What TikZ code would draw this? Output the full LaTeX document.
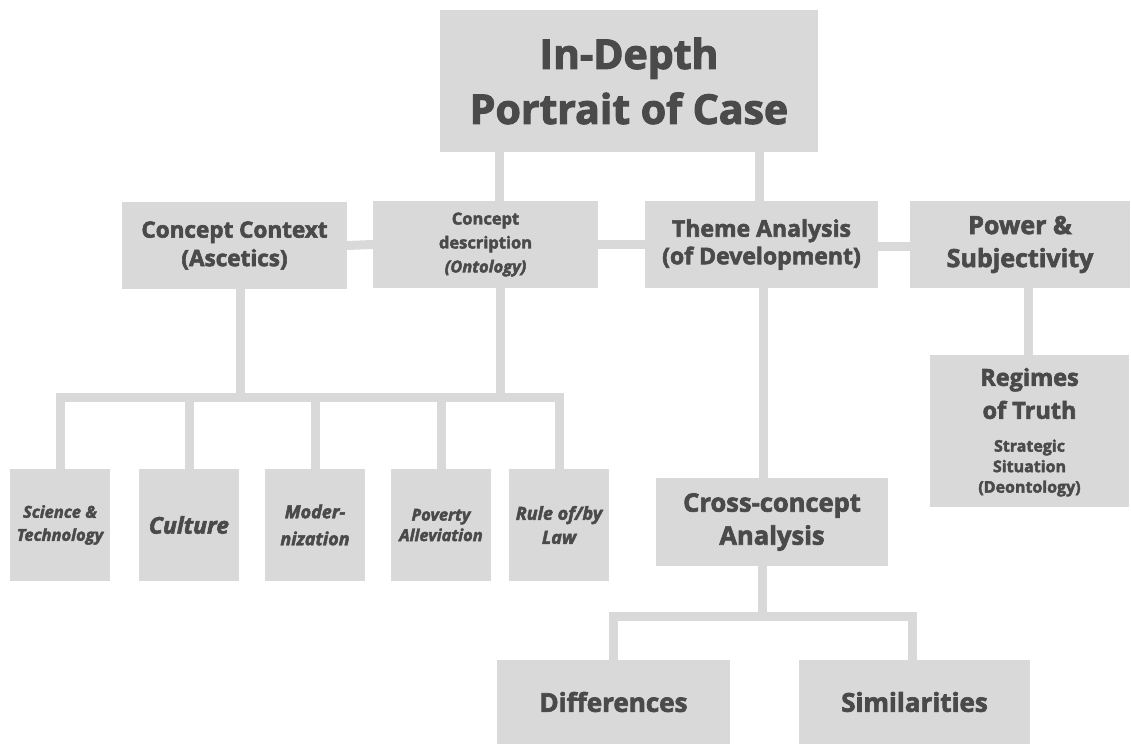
\documentclass[tikz,border=0pt]{standalone}
\usepackage{fontspec}
\setmainfont{Open Sans}[BoldFeatures={FakeBold=2.6},BoldItalicFeatures={FakeBold=2.6}]
\definecolor{boxgray}{HTML}{D9D9D9}
\definecolor{txtgray}{HTML}{4A4A4A}
\newcommand{\fsz}[2]{\fontsize{#1}{#2}\selectfont}
\tikzset{
 box/.style={fill=boxgray, draw=none, text=txtgray, align=center, inner sep=0pt, font=\bfseries},
 link/.style={draw=boxgray, line width=9pt, line cap=rect},
}
\begin{document}
\begin{tikzpicture}[x=1pt,y=-1pt]
\useasboundingbox (0,0) rectangle (1131,744);
% nodes
\node[box, minimum width=378, minimum height=142, font=\fsz{41}{55}\bfseries] (top) at (629,81) {In-Depth\\Portrait of Case};
\node[box, minimum width=225, minimum height=87, font=\fsz{22.5}{28.5}\bfseries] (cc) at (234.5,245.5) {Concept Context\\(Ascetics)};
\node[box, minimum width=225, minimum height=87, font=\fsz{16.5}{24}\bfseries] (cd) at (485.5,244.5) {Concept\\description\\\textit{(Ontology)}};
\node[box, minimum width=233, minimum height=87, font=\fsz{23}{27.5}\bfseries] (ta) at (761.5,244.5) {Theme Analysis\\(of Development)};
\node[box, minimum width=220, minimum height=87, font=\fsz{25}{33}\bfseries] (ps) at (1020,244.5) {Power \&\\Subjectivity};
\node[box, minimum width=199, minimum height=152] (rt) at (1029.5,431) {};
\node[text=txtgray, align=center, inner sep=0pt, font=\fsz{23.5}{33}\bfseries] (rtt) at (1029.5,393.5) {Regimes\\of Truth};
\node[text=txtgray, align=center, inner sep=0pt, font=\fsz{16}{20.5}\bfseries] (rts) at (1029.5,468) {Strategic\\Situation\\(Deontology)};
\node[box, minimum width=100, minimum height=112, font=\fsz{16.5}{23}\bfseries\itshape] (b1) at (60,525) {Science \&\\Technology};
\node[box, minimum width=100, minimum height=112, font=\fsz{23}{28}\bfseries\itshape] (b2) at (189,525) {Culture};
\node[box, minimum width=100, minimum height=112, font=\fsz{18}{27}\bfseries\itshape] (b3) at (315,525) {Moder-\\nization};
\node[box, minimum width=100, minimum height=112, font=\fsz{16.5}{20.5}\bfseries\itshape] (b4) at (441,525) {Poverty\\Alleviation};
\node[box, minimum width=100, minimum height=112, font=\fsz{18}{24}\bfseries\itshape] (b5) at (559,525) {Rule of/by\\Law};
\node[box, minimum width=232, minimum height=88, font=\fsz{25.5}{33}\bfseries] (cr) at (772,522) {Cross-concept\\Analysis};
\node[box, minimum width=233, minimum height=84, font=\fsz{26}{34}\bfseries] (df) at (613.5,702) {Differences};
\node[box, minimum width=231, minimum height=84, font=\fsz{26}{34}\bfseries] (sm) at (914.5,702) {Similarities};
% helper coordinates
\coordinate (x499) at (499,0);
\coordinate (x759) at (759,0);
\coordinate (x240) at (240,0);
\coordinate (x500) at (500,0);
\coordinate (x763) at (763,0);
\coordinate (x762) at (762,0);
\coordinate (x1028) at (1028,0);
\coordinate (busL) at (60,397);
\coordinate (busR) at (559,397);
\coordinate (bus2L) at (613,616);
\coordinate (bus2R) at (912,616);
% connectors
\draw[link] (top.south -| x499) -- (cd.north -| x499);
\draw[link] (top.south -| x759) -- (ta.north -| x759);
\draw[link] (cc.east) -- (cd.west);
\draw[link] (cd.east) -- (ta.west);
\draw[link] ([yshift=-2pt]ta.east) -- ([yshift=-2pt]ps.west);
\draw[link] (cc.south -| x240) -- (busL -| x240);
\draw[link] (cd.south -| x500) -- (busL -| x500);
\draw[link] (busL) -- (busR);
\foreach \b in {b1,b2,b3,b4,b5} {\draw[link] (busL -| \b) -- (\b.north);}
\draw[link] (ta.south -| x763) -- (cr.north -| x763);
\draw[link] (ps.south -| x1028) -- (rt.north -| x1028);
\draw[link] (cr.south -| x762) -- (bus2L -| x762);
\draw[link] (bus2L) -- (bus2R);
\draw[link] (bus2L) -- (bus2L |- df.north);
\draw[link] (bus2R) -- (bus2R |- sm.north);
\end{tikzpicture}
\end{document}
